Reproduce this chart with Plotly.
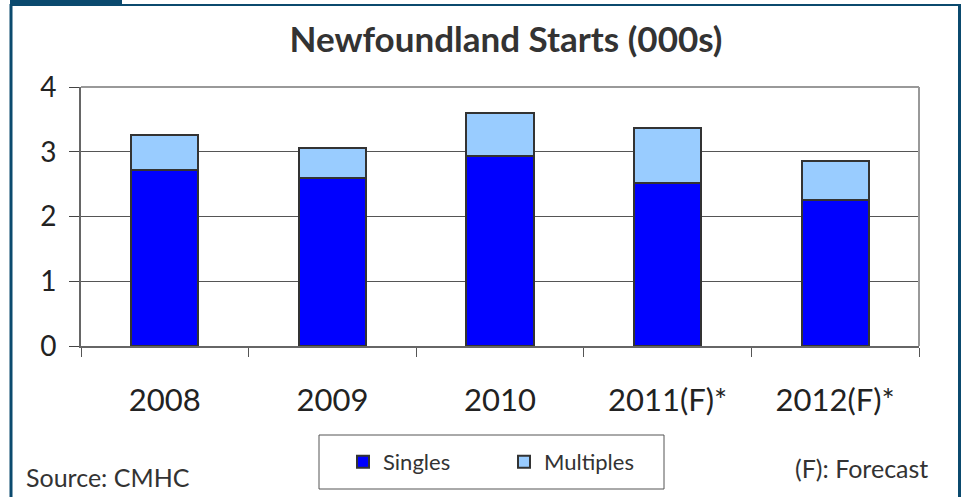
import plotly.graph_objects as go

# Newfoundland housing starts (000s)
years = ['2008', '2009', '2010', '2011(F)*', '2012(F)*']
singles = [2.72, 2.59, 2.93, 2.52, 2.25]
multiples = [0.54, 0.47, 0.67, 0.85, 0.60]

W, H = 961, 497
L, R, T, B = 81, 42, 87, 151
pw, ph = W - L - R, H - T - B

def px_x(x):
    return (x - L) / pw

def px_y(y):
    return 1 - (y - T) / ph

font = 'Lato, Noto Sans, sans-serif'
frame = '#0b4a6e'

fig = go.Figure()
fig.add_trace(go.Bar(x=years, y=singles, name='Singles',
                     marker=dict(color='#0000ff', line=dict(color='#333333', width=2))))
fig.add_trace(go.Bar(x=years, y=multiples, name='Multiples',
                     marker=dict(color='#99ccff', line=dict(color='#333333', width=2))))

fig.update_layout(
    width=W, height=H,
    barmode='stack', bargap=0.6,
    margin=dict(l=L, r=R, t=T, b=B),
    plot_bgcolor='white', paper_bgcolor='white',
    font=dict(family=font, color='#222222'),
    title=dict(text='<b>Newfoundland Starts (000s)</b>', x=px_x(506), xref='paper',
               xanchor='center', y=1 - 40 / H, yanchor='middle',
               font=dict(size=35, color='#333333')),
    showlegend=True,
    legend=dict(orientation='h', x=px_x(343), y=px_y(462), xanchor='left', yanchor='middle',
                borderwidth=0, bgcolor='rgba(0,0,0,0)',
                font=dict(size=22, color='#333333'), entrywidth=116,
                itemwidth=30, traceorder='normal'),
)

fig.update_xaxes(type='category', showline=True, linecolor='#666666', linewidth=2,
                 ticks='outside', tickson='boundaries', ticklen=9, tickcolor='#555555',
                 tickfont=dict(size=31, color='#222222'), ticklabelstandoff=26,
                 showgrid=False, mirror=False)
fig.update_yaxes(range=[0, 4], dtick=1, showline=True, linecolor='#666666', linewidth=2,
                 ticks='outside', ticklen=10, tickcolor='#444444',
                 tickfont=dict(size=28, color='#222222'), ticklabelstandoff=7,
                 showgrid=True, gridcolor='#555555', gridwidth=1, zeroline=False)

# plot area top/right frame
fig.add_shape(type='line', xref='paper', yref='paper', x0=0, x1=1, y0=1, y1=1,
              line=dict(color='#999999', width=2))
fig.add_shape(type='line', xref='paper', yref='paper', x0=1, x1=1, y0=0, y1=1,
              line=dict(color='#999999', width=2))

# legend box
fig.add_shape(type='rect', xref='paper', yref='paper', x0=px_x(319), x1=px_x(664),
              y0=px_y(489), y1=px_y(435), line=dict(color='#555555', width=1),
              layer='below')

# outer page frame
fig.add_shape(type='line', xref='paper', yref='paper', x0=px_x(11), x1=px_x(11),
              y0=px_y(4), y1=px_y(H + 5), line=dict(color=frame, width=3))
fig.add_shape(type='line', xref='paper', yref='paper', x0=px_x(959.5), x1=px_x(959.5),
              y0=px_y(4), y1=px_y(H + 5), line=dict(color=frame, width=3))
fig.add_shape(type='line', xref='paper', yref='paper', x0=px_x(10), x1=px_x(961),
              y0=px_y(5), y1=px_y(5), line=dict(color=frame, width=2))
fig.add_shape(type='rect', xref='paper', yref='paper', x0=px_x(10), x1=px_x(122),
              y0=px_y(0), y1=px_y(6), fillcolor=frame, line=dict(width=0))

fig.add_annotation(text='Source: CMHC', xref='paper', yref='paper', x=px_x(24),
                   y=px_y(477), xanchor='left', yanchor='middle', showarrow=False,
                   font=dict(size=25, color='#333333'))
fig.add_annotation(text='(F): Forecast', xref='paper', yref='paper', x=px_x(930),
                   y=px_y(468), xanchor='right', yanchor='middle', showarrow=False,
                   font=dict(size=25, color='#333333'))

fig.write_html('out.html', config={'displayModeBar': False},
               post_script="document.body.style.margin='0px';")
